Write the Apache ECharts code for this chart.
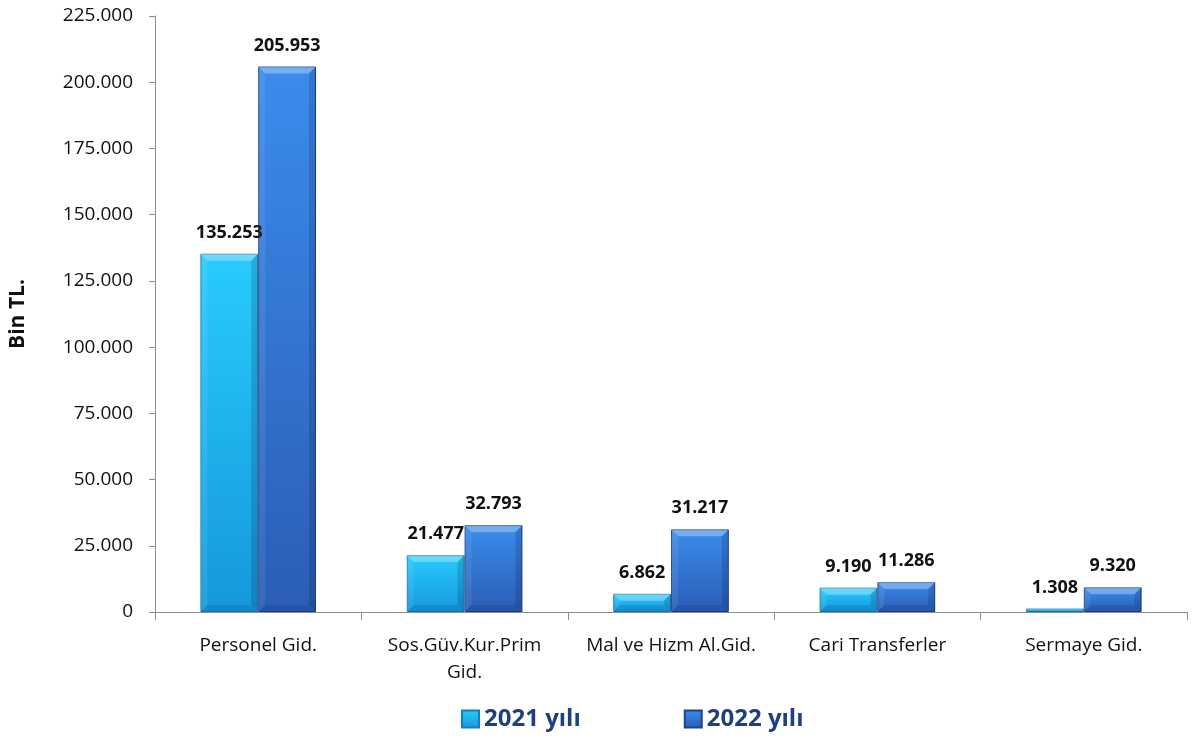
<!DOCTYPE html>
<html>
<head>
<meta charset="utf-8">
<script src="https://cdn.jsdelivr.net/npm/echarts@6/dist/echarts.min.js"></script>
<style>
  html, body { margin: 0; padding: 0; background: #fff; }
  #chart { width: 1198px; height: 738px; }
</style>
</head>
<body>
<div id="chart"></div>
<script>
// kategoriler ve degerler (Bin TL.)
var categories = ['Personel Gid.', 'Sos.Güv.Kur.Prim\nGid.', 'Mal ve Hizm Al.Gid.', 'Cari Transferler', 'Sermaye Gid.'];
var values2021 = [135253, 21477, 6862, 9190, 1308];
var values2022 = [205953, 32793, 31217, 11286, 9320];
var seriesNames = ['2021 yılı', '2022 yılı'];

var BAR_GAP = 0.44;

//binlik ayraci nokta
function formatTr(v) {
    return String(Math.round(v)).replace(/\B(?=(\d{3})+(?!\d))/g, '.');
}

function vgrad(top, bottom) {
    return {
        type: 'linear', x: 0, y: 0, x2: 0, y2: 1,
        colorStops: [{ offset: 0, color: top }, { offset: 1, color: bottom }]
    };
}

var labelStyle = {
    show: true,
    position: 'top',
    distance: 12,
    fontFamily: 'Open Sans',
    fontWeight: 'bold',
    fontSize: 18,
    color: '#111',
    formatter: function (p) { return formatTr(p.value); }
};

//kabartma (bevel) icin veri: [kategori, deger, seri]
var bevelData = [];
values2021.forEach(function (v, i) { bevelData.push([i, v, 0]); });
values2022.forEach(function (v, i) { bevelData.push([i, v, 1]); });

function renderBevel(params, api) {
    var cat = api.value(0), val = api.value(1), s = api.value(2);
    var base = api.coord([cat, 0]);
    var topPt = api.coord([cat, val]);
    var band = api.size([1, 0])[0];
    var w = band * (1 - BAR_GAP) / 2;
    var x0 = base[0] - w + s * w, x1 = x0 + w;
    var top = topPt[1], bottom = base[1];
    var b = Math.min(7, (bottom - top) / 2);
    if (b < 0.5) return;
    function poly(points, fill) {
        return { type: 'polygon', shape: { points: points }, style: { fill: fill }, silent: true };
    }
    return {
        type: 'group',
        children: [
            poly([[x0, top], [x1, top], [x1 - b, top + b], [x0 + b, top + b]], 'rgba(255,255,255,0.30)'),
            poly([[x0, top], [x0 + b, top + b], [x0 + b, bottom - b], [x0, bottom]], 'rgba(255,255,255,0.08)'),
            poly([[x1, top], [x1 - b, top + b], [x1 - b, bottom - b], [x1, bottom]], 'rgba(0,0,40,0.15)'),
            poly([[x0, bottom], [x0 + b, bottom - b], [x1 - b, bottom - b], [x1, bottom]], 'rgba(0,0,40,0.10)')
        ]
    };
}

var chart = echarts.init(document.getElementById('chart'));
chart.setOption({
    animation: false,
    textStyle: { fontFamily: 'Open Sans' },
    grid: { left: 155, right: 11, top: 16, bottom: 126 },
    legend: {
        bottom: 2,
        left: 456,
        icon: 'rect',
        itemGap: 103,
        itemWidth: 17,
        itemHeight: 17,
        textStyle: { fontSize: 24, fontWeight: 'bold', color: '#1f3f80', fontFamily: 'Open Sans' },
        data: seriesNames
    },
    xAxis: {
        type: 'category',
        data: categories,
        axisLine: { lineStyle: { color: '#8c8c8c' } },
        axisTick: { show: true, length: 8, lineStyle: { color: '#8c8c8c' } },
        axisLabel: { fontSize: 19, color: '#111', margin: 20, lineHeight: 27, interval: 0 }
    },
    yAxis: {
        type: 'value',
        min: 0,
        max: 225000,
        interval: 25000,
        name: 'Bin TL.',
        nameLocation: 'middle',
        nameGap: 126,
        nameRotate: 90,
        nameTextStyle: { fontSize: 21, fontWeight: 'bold', color: '#111' },
        axisLine: { show: true, lineStyle: { color: '#8c8c8c' } },
        axisTick: { show: true, length: 6, lineStyle: { color: '#8c8c8c' } },
        splitLine: { show: false },
        axisLabel: { fontSize: 19, color: '#111', margin: 22, formatter: formatTr }
    },
    series: [{
        name: seriesNames[0],
        type: 'bar',
        data: values2021,
        barGap: '0%',
        barCategoryGap: (BAR_GAP * 100) + '%',
        itemStyle: { color: vgrad('#29cbfd', '#1598dc'), borderColor: '#137fb8', borderWidth: 1 },
        label: labelStyle
    }, {
        name: seriesNames[1],
        type: 'bar',
        data: values2022,
        itemStyle: { color: vgrad('#3b8cec', '#2a5db6'), borderColor: '#1f4585', borderWidth: 1 },
        label: labelStyle
    }, {
        type: 'custom',
        name: 'bevel',
        silent: true,
        z: 3,
        renderItem: renderBevel,
        data: bevelData
    }]
});
window.addEventListener('resize', function () { chart.resize(); });
</script>
</body>
</html>
